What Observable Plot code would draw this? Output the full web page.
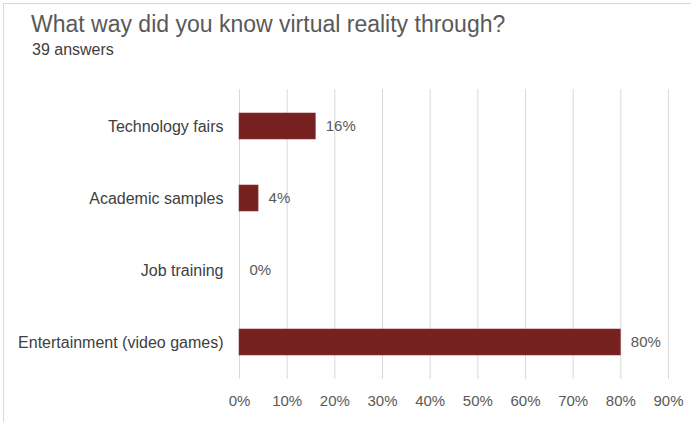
<!DOCTYPE html>
<html>
<head>
<meta charset="utf-8">
<script src="https://cdn.jsdelivr.net/npm/d3@7"></script>
<script src="https://cdn.jsdelivr.net/npm/@observablehq/plot@0.6"></script>
<style>
  html, body { margin: 0; padding: 0; background: #fff; overflow: hidden; }
  #wrap { position: relative; width: 691px; height: 422px; }
  #frame { position: absolute; left: 3px; top: 3px; width: 700px; height: 440px; border: 1px solid #d9d9d9; box-sizing: border-box; }
  #title { position: absolute; left: 31px; top: 11px; font-family: "Liberation Sans", Arial, sans-serif; font-size: 23px; color: #595959; white-space: nowrap; }
  #subtitle { position: absolute; left: 32px; top: 41px; font-family: "Liberation Sans", Arial, sans-serif; font-size: 16px; color: #404040; white-space: nowrap; }
  #chart { position: absolute; left: 0; top: 70px; }
</style>
</head>
<body>
<div id="wrap">
  <div id="frame"></div>
  <div id="title">What way did you know virtual reality through?</div>
  <div id="subtitle">39 answers</div>
  <div id="chart"></div>
</div>
<script>
const categories = ["Technology fairs", "Academic samples", "Job training", "Entertainment (video games)"];
const values = [16, 4, 0, 80];
const tickValues = [0, 10, 20, 30, 40, 50, 60, 70, 80, 90];

const data = categories.map((c, i) => ({category: c, value: values[i]}));
const pct = d => d + "%";

const chart = Plot.plot({
  width: 691,
  height: 352,
  marginLeft: 239,
  marginRight: 23,
  marginTop: 19,
  marginBottom: 43,
  style: {fontFamily: "'Liberation Sans', Arial, sans-serif", fontSize: "15px", color: "#595959", background: "transparent"},
  x: {domain: [0, 90], ticks: tickValues, tickFormat: pct, label: null},
  y: {domain: categories, paddingInner: 0.64, paddingOuter: 0.32, label: null},
  marks: [
    Plot.ruleX(tickValues, {stroke: "#d9d9d9", strokeWidth: 1}),
    Plot.barX(data, {x: "value", y: "category", fill: "#772020", stroke: "#8a3a3a", strokeWidth: 0.6}),
    Plot.text(data, {x: "value", y: "category", text: d => pct(d.value), dx: 10, textAnchor: "start", fill: "#595959", fontSize: 15}),
    Plot.axisX({ticks: tickValues, tickFormat: pct, tickSize: 0, tickPadding: 16, label: null, fontSize: 15, fill: "#595959"}),
    Plot.axisY({tickSize: 0, tickPadding: 16, label: null, fontSize: 16, fill: "#404040"})
  ]
});
document.getElementById("chart").appendChild(chart);
</script>
</body>
</html>
